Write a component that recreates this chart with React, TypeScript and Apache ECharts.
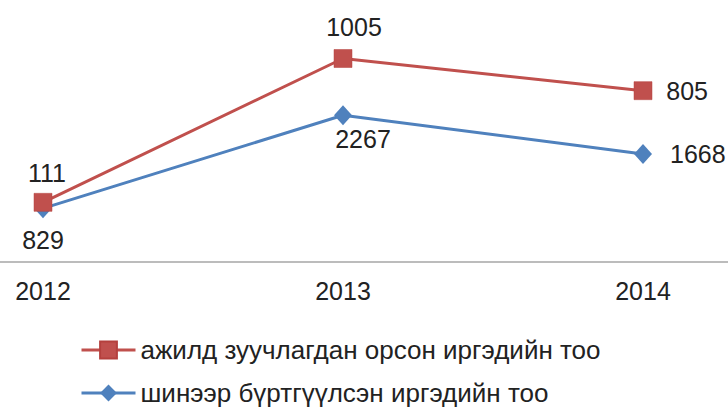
import React, { useEffect, useRef } from "react";
import * as echarts from "echarts";

const years = ["2012", "2013", "2014"];
const placedName = "ажилд зуучлагдан орсон иргэдийн тоо";
const registeredName = "шинээр бүртгүүлсэн иргэдийн тоо";
const placedValues = [111, 1005, 805];
const registeredValues = [829, 2267, 1668];

const RED = "#C0504D";
const BLUE = "#4F81BD";
const TEXT = "#222222";
const FONT = "'Liberation Sans', Arial, sans-serif";

export default function App() {
  const ref = useRef<HTMLDivElement>(null);
  useEffect(() => {
    if (!ref.current) return;
    const chart = echarts.init(ref.current, null, { renderer: "svg" });
    const labelBase = { show: true, color: TEXT, fontSize: 25, fontFamily: FONT };
    chart.setOption({
      animation: false,
      backgroundColor: "#ffffff",
      grid: { left: 43, right: 85, top: 3, bottom: 146 },
      graphic: [
        {
          type: "line",
          shape: { x1: 0, y1: 262, x2: 728, y2: 262 },
          style: { stroke: "#A6A6A6", lineWidth: 1.5 },
          z: 0,
        },
      ],
      legend: {
        orient: "vertical",
        left: 80,
        top: 337,
        padding: 0,
        itemWidth: 54,
        itemHeight: 21,
        itemGap: 17,
        lineStyle: { width: 3 },
        textStyle: { color: TEXT, fontSize: 26, lineHeight: 26, fontFamily: FONT },
        data: [placedName, registeredName],
      },
      xAxis: {
        type: "category",
        data: years,
        boundaryGap: false,
        axisLine: { show: false },
        axisTick: { show: false },
        axisLabel: { color: TEXT, fontSize: 25, fontFamily: FONT, margin: 16 },
        splitLine: { show: false },
      },
      yAxis: [
        { type: "value", min: 0, max: 4000, show: false, splitLine: { show: false } },
        { type: "value", min: -260, max: 1350, show: false, splitLine: { show: false } },
      ],
      series: [
        {
          name: placedName,
          type: "line",
          yAxisIndex: 1,
          data: placedValues.map((v, i) => ({
            value: v,
            label:
              i === 0
                ? { position: "top", distance: 8, offset: [4, 0] }
                : i === 1
                ? { position: "top", distance: 10, offset: [11, 0] }
                : { position: "right", distance: 14 },
          })),
          symbol: "rect",
          symbolSize: 18,
          lineStyle: { color: RED, width: 3 },
          itemStyle: { color: RED, borderColor: "#B4403D", borderWidth: 0.5 },
          label: labelBase,
          z: 3,
        },
        {
          name: registeredName,
          type: "line",
          yAxisIndex: 0,
          data: registeredValues.map((v, i) => ({
            value: v,
            label:
              i === 0
                ? { position: "bottom", distance: 9 }
                : i === 1
                ? { position: "bottom", distance: 1, offset: [20, 0] }
                : { position: "right", distance: 18 },
          })),
          symbol: "diamond",
          symbolSize: [18, 20],
          lineStyle: { color: BLUE, width: 3 },
          itemStyle: { color: BLUE },
          label: labelBase,
          z: 2,
        },
      ],
    });
    return () => chart.dispose();
  }, []);
  return (
    <div
      ref={ref}
      style={{ position: "fixed", left: 0, top: 0, width: 728, height: 408, background: "#fff" }}
    />
  );
}
